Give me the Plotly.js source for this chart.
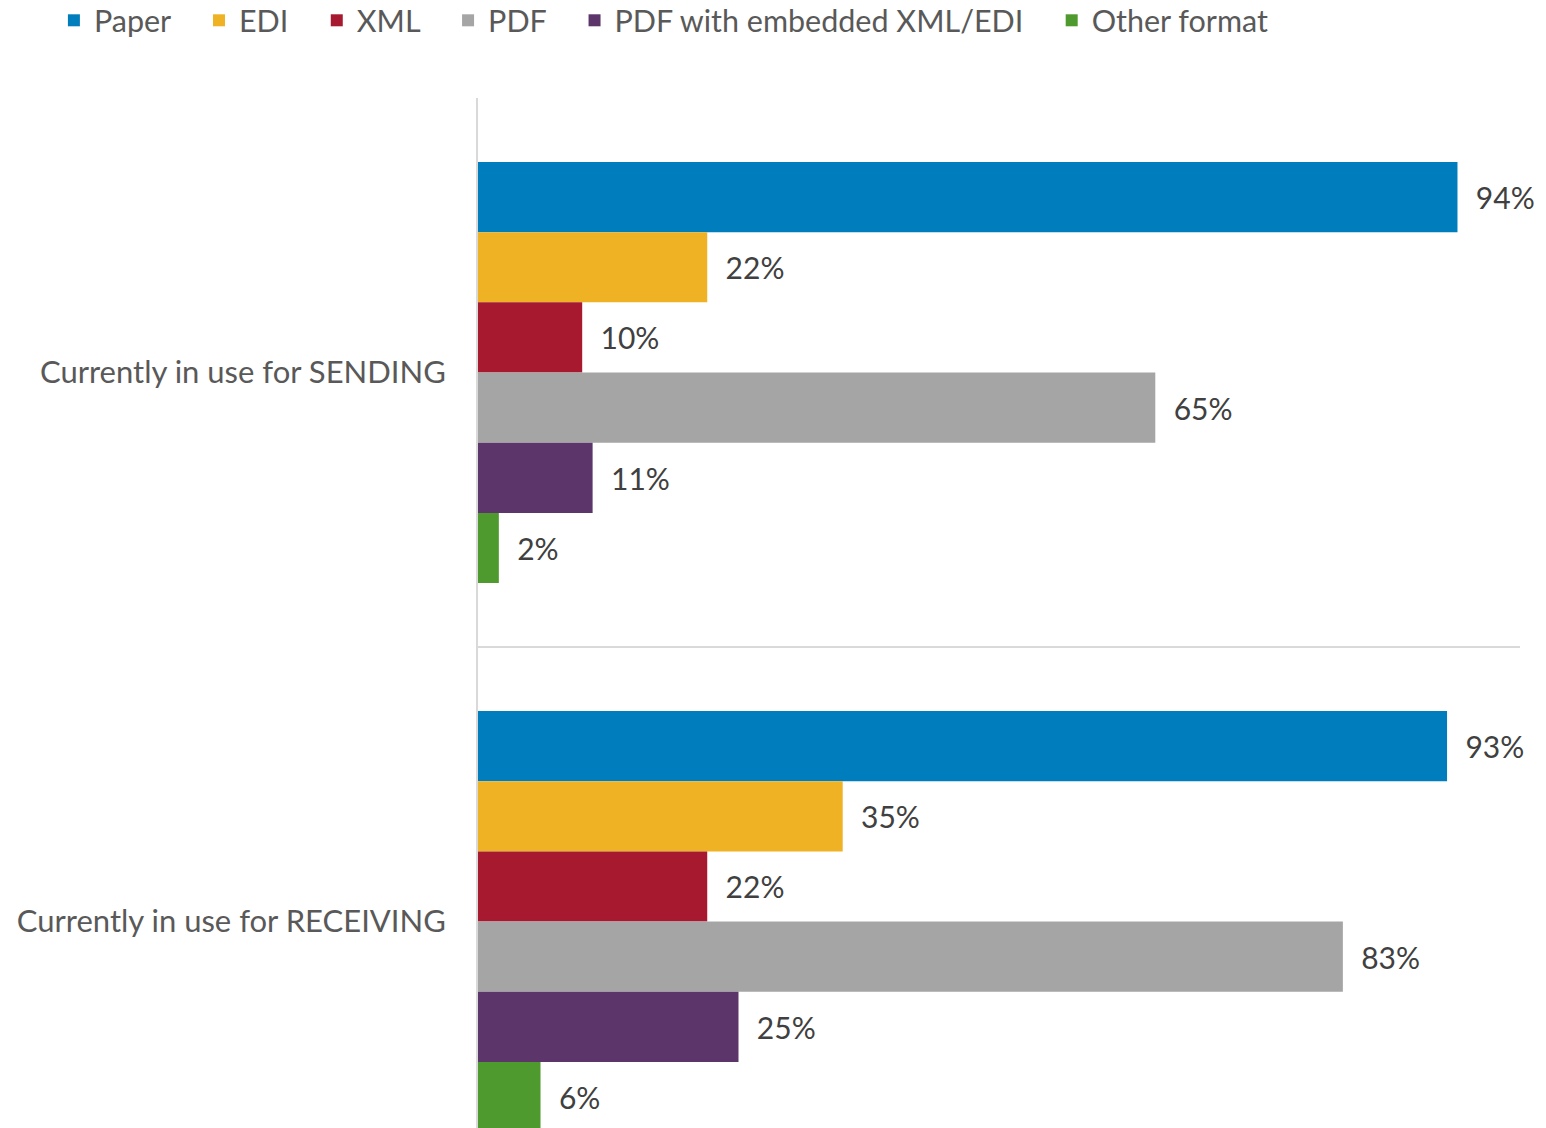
<!DOCTYPE html>
<html>
<head>
<meta charset="utf-8">
<script src="https://cdn.plot.ly/plotly-3.0.1.min.js"></script>
<style>html,body{margin:0;padding:0;background:#fff;overflow:hidden}#chart{width:1546px;height:1128px}</style>
</head>
<body>
<div id="chart"></div>
<script>
const categories = ["Currently in use for SENDING", "Currently in use for RECEIVING"];
const seriesNames = ["Paper", "EDI", "XML", "PDF", "PDF with embedded XML/EDI", "Other format"];
const paper = [94, 93];
const edi = [22, 35];
const xml = [10, 22];
const pdf = [65, 83];
const pdfEmbedded = [11, 25];
const otherFormat = [2, 6];
const seriesValues = [paper, edi, xml, pdf, pdfEmbedded, otherFormat];
const colors = ["#007DBD", "#EFB225", "#A6192E", "#A5A5A5", "#5C366B", "#4E9A2F"];

const FONT = "Lato, 'Open Sans', sans-serif";
const pad = "\u00A0\u00A0";
const legendPad = "\u00A0\u00A0\u00A0";

const traces = seriesNames.map((name, i) => ({
  type: "bar",
  orientation: "h",
  name: name + legendPad,
  y: categories,
  x: seriesValues[i],
  marker: {color: colors[i], line: {width: 0}},
  text: seriesValues[i].map(v => pad + v + "%"),
  textposition: "outside",
  textfont: {family: FONT, size: 30, color: "#404040"},
  cliponaxis: false,
  hoverinfo: "x+name"
}));

const layout = {
  width: 1546,
  height: 1128,
  paper_bgcolor: "#ffffff",
  plot_bgcolor: "#ffffff",
  margin: {l: 478, r: 26, t: 98, b: 0, pad: 0, autoexpand: false},
  barmode: "group",
  bargap: 0.233,
  bargroupgap: 0,
  font: {family: FONT, size: 31, color: "#595959"},
  showlegend: true,
  legend: {
    orientation: "h",
    xref: "paper", yref: "paper",
    x: -0.407, y: 1.101, xanchor: "left", yanchor: "top",
    font: {family: FONT, size: 30.5, color: "#595959"},
    traceorder: "normal",
    bgcolor: "rgba(0,0,0,0)"
  },
  xaxis: {
    range: [0, 100],
    showticklabels: false,
    showgrid: false,
    zeroline: false,
    showline: false,
    ticks: "",
    fixedrange: true
  },
  yaxis: {
    type: "category",
    range: [1.376, -0.5],
    autorange: false,
    tickson: "boundaries",
    showgrid: true,
    gridcolor: "#D9D9D9",
    gridwidth: 2,
    showline: true,
    linecolor: "#D9D9D9",
    linewidth: 2,
    ticks: "",
    ticklabelstandoff: 24,
    tickfont: {family: FONT, size: 31, color: "#595959"},
    zeroline: false,
    fixedrange: true
  }
};

Plotly.newPlot("chart", traces, layout, {displayModeBar: false, staticPlot: true});
</script>
</body>
</html>
